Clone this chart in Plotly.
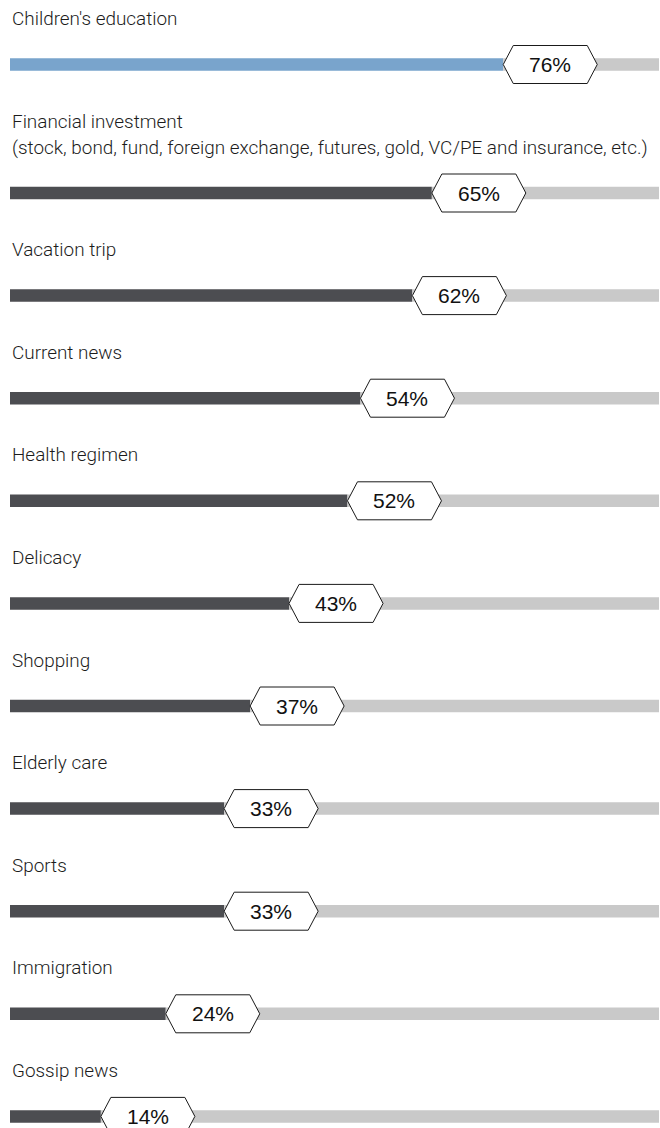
import plotly.graph_objects as go

categories = [
    "Children's education",
    "Financial investment",
    "Vacation trip",
    "Current news",
    "Health regimen",
    "Delicacy",
    "Shopping",
    "Elderly care",
    "Sports",
    "Immigration",
    "Gossip news",
]
sublabels = [
    "",
    "(stock, bond, fund, foreign exchange, futures, gold, VC/PE and insurance, etc.)",
    "", "", "", "", "", "", "", "", "",
]
values = [76, 65, 62, 54, 52, 43, 37, 33, 33, 24, 14]

W, H = 660, 1128
X0, X1 = 10, 659
PX = 100.0 / (X1 - X0)  # x units per pixel

# vertical layout (pixels from top)
centers = []
for i in range(len(values)):
    if i == 0:
        y = 64.5
    else:
        y = 193 + 102.6 * (i - 1)
    centers.append(y)

BLUE = "#79a4cc"
DARK = "#4c4d51"
GREY = "#c9c9c9"

fill_colors = [BLUE] + [DARK] * (len(values) - 1)

fig = go.Figure()
fig.add_trace(go.Bar(
    y=centers, x=values, orientation="h", width=12.5,
    marker=dict(color=fill_colors, line=dict(width=0)),
    hoverinfo="skip", showlegend=False,
))
fig.add_trace(go.Bar(
    y=centers, x=[100 - v for v in values], base=values, orientation="h", width=12.5,
    marker=dict(color=GREY, line=dict(width=0)),
    hoverinfo="skip", showlegend=False,
))

LABEL_FONT = dict(family="Roboto", size=18.9, color="#1c1c1c", weight=300)

shapes = []
annotations = []
HW, HIN, HH = 94, 10, 19
for cat, sub, v, yc in zip(categories, sublabels, values, centers):
    xl = v
    xr = v + HW * PX
    path = (f"M {xl} {yc} L {v + HIN * PX} {yc - HH} L {xr - HIN * PX} {yc - HH} "
            f"L {xr} {yc} L {xr - HIN * PX} {yc + HH} L {v + HIN * PX} {yc + HH} Z")
    shapes.append(dict(type="path", path=path, xref="x", yref="y",
                       fillcolor="white", line=dict(color="#1a1a1a", width=1),
                       layer="above"))
    annotations.append(dict(x=v + HW / 2 * PX, y=yc, xref="x", yref="y",
                            text=f"{v}%", showarrow=False, xanchor="center", yanchor="middle",
                            font=dict(family="Liberation Sans, Arial", size=21, color="#111")))
    if sub:
        annotations.append(dict(x=0, y=yc - 72, xref="x", yref="y", text=cat, showarrow=False,
                                xanchor="left", yanchor="middle", font=LABEL_FONT))
        annotations.append(dict(x=0, y=yc - 46, xref="x", yref="y", text=sub, showarrow=False,
                                xanchor="left", yanchor="middle", font=LABEL_FONT))
    else:
        annotations.append(dict(x=0, y=yc - 46, xref="x", yref="y", text=cat, showarrow=False,
                                xanchor="left", yanchor="middle", font=LABEL_FONT))

fig.update_layout(
    width=W, height=H,
    margin=dict(l=0, r=0, t=0, b=0),
    paper_bgcolor="white", plot_bgcolor="white",
    barmode="overlay",
    xaxis=dict(domain=[X0 / W, X1 / W], range=[0, 100], visible=False, fixedrange=True),
    yaxis=dict(domain=[0, 1], range=[H, 0], visible=False, fixedrange=True),
    shapes=shapes, annotations=annotations,
)

fig.write_html("out.html", config={"displayModeBar": False},
               post_script="document.body.style.margin='0';document.body.style.padding='0';")
